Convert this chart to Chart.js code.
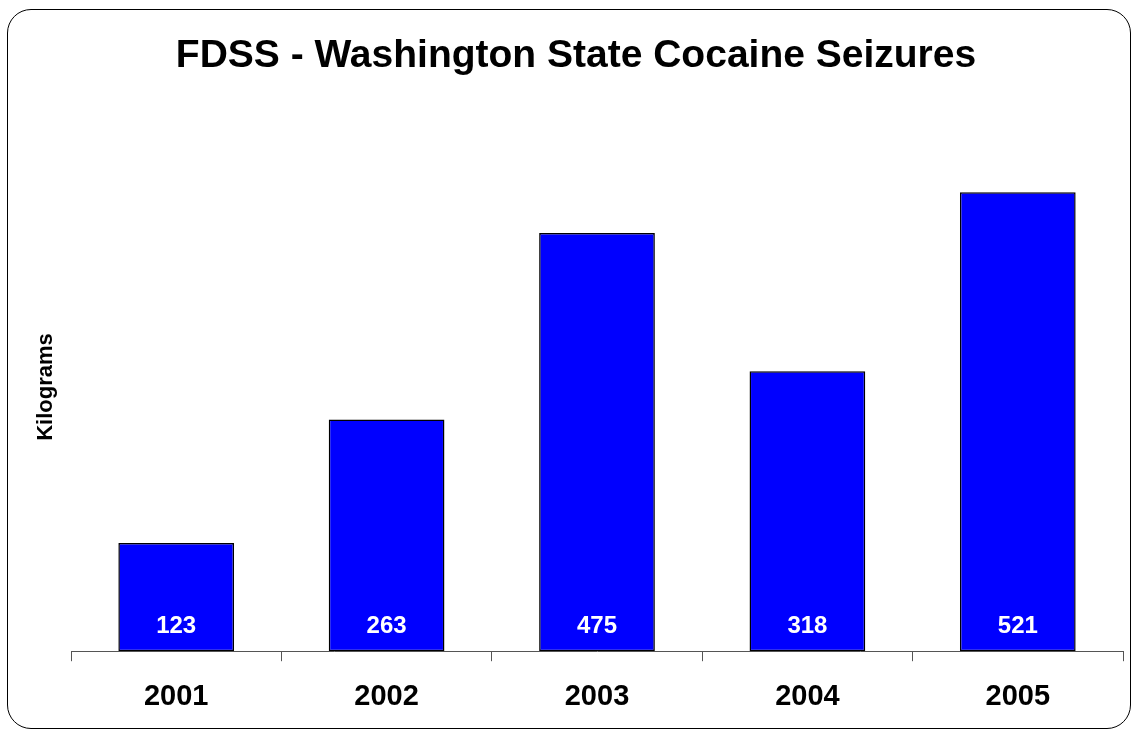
<!DOCTYPE html>
<html>
<head>
<meta charset="utf-8">
<script src="https://cdn.jsdelivr.net/npm/chart.js@4"></script>
<style>
  html, body { margin: 0; padding: 0; background: #fff; }
  #wrap { position: relative; width: 1135px; height: 732px; overflow: hidden; }
  #frame {
    position: absolute; left: 7px; top: 9px; width: 1124px; height: 720px;
    border: 1.5px solid #000; border-radius: 24px; box-sizing: border-box;
  }
  #chart { position: absolute; left: 0; top: 0; }
</style>
</head>
<body>
<div id="wrap">
  <div id="frame"></div>
  <canvas id="chart" width="1135" height="732"></canvas>
</div>
<script>
const years = ["2001", "2002", "2003", "2004", "2005"];
const kilograms = [123, 263, 475, 318, 521];

const FONT = "Arial, 'Liberation Sans', Helvetica, sans-serif";

// white value labels sitting near the foot of each bar
const barValueLabels = {
  id: "barValueLabels",
  afterDatasetsDraw(chart){
    const { ctx } = chart;
    const meta = chart.getDatasetMeta(0);
    const base = chart.scales.y.getPixelForValue(0);
    ctx.save();
    ctx.fillStyle = "#fff";
    ctx.font = `bold 24px ${FONT}`;
    ctx.textAlign = "center";
    ctx.textBaseline = "middle";
    meta.data.forEach((bar, i) => {
      ctx.fillText(String(kilograms[i]), bar.x, base - 25);
    });
    ctx.restore();
  }
};

new Chart(document.getElementById("chart"), {
  type: "bar",
  data: {
    labels: years,
    datasets: [{
      data: kilograms,
      backgroundColor: "#0000ff",
      borderColor: "#000",
      borderWidth: 1.5,
      borderSkipped: false,
      barPercentage: 0.55,
      categoryPercentage: 1
    }]
  },
  options: {
    responsive: false,
    animation: false,
    layout: { padding: { left: 29, right: 12, top: 0, bottom: 0 } },
    plugins: {
      legend: { display: false },
      tooltip: { enabled: false },
      title: {
        display: true,
        text: "FDSS - Washington State Cocaine Seizures",
        color: "#000",
        font: { family: FONT, size: 39, weight: "bold", lineHeight: 1.2 },
        padding: { top: 33, bottom: 43 }
      }
    },
    scales: {
      x: {
        grid: {
          display: true,
          offset: true,
          drawOnChartArea: false,
          drawTicks: true,
          tickLength: 10,
          color: "#555"
        },
        border: { display: true, color: "#555", width: 1 },
        ticks: {
          color: "#000",
          padding: 18,
          font: { family: FONT, size: 29, weight: "bold" }
        }
      },
      y: {
        min: 0,
        max: 600,
        grid: { display: false },
        border: { display: false },
        ticks: { display: false },
        title: {
          display: true,
          text: "Kilograms",
          color: "#000",
          padding: { top: 4, bottom: 4 },
          font: { family: FONT, size: 22, weight: "bold", lineHeight: 1.2 }
        },
        afterFit(scale){ scale.width = 42; }
      }
    }
  },
  plugins: [barValueLabels]
});
</script>
</body>
</html>
